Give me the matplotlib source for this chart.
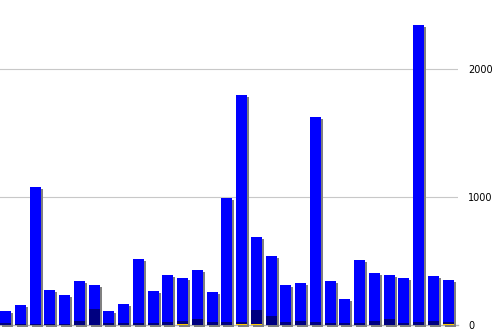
import numpy as np
from matplotlib import pyplot as plt
from matplotlib import transforms

# bar totals (31 bars)
totals = [109, 156, 1078, 273, 234, 344, 312, 109, 164, 515, 265, 390, 367, 430, 258,
          992, 1797, 687, 539, 312, 328, 1625, 344, 203, 508, 406, 390, 367, 2343, 383, 351]
# dark (navy) lower segment
dark = [13, 10, 8, 8, 8, 31, 125, 16, 16, 16, 16, 26, 21, 47, 26,
        26, 16, 109, 73, 26, 34, 26, 16, 16, 16, 34, 47, 16, 26, 34, 16]
# thin yellow segment at the very bottom
yellow = [0, 0, 0, 0, 0, 0, 0, 0, 0, 0, 0, 0, 8, 0, 0,
          0, 8, 8, 0, 0, 0, 0, 0, 0, 0, 0, 0, 0, 0, 0, 8]
yticks = [0, 1000, 2000]

totals = np.array(totals, dtype=float)
dark = np.array(dark, dtype=float)
yellow = np.array(yellow, dtype=float)
blue = totals - dark - yellow
x = np.arange(len(totals))
w = 0.746

fig = plt.figure(figsize=(4.98, 3.30), dpi=100)
ax = fig.add_axes([0, 5/330, 458/498, 325/330])

# drop shadow, 2px right / 2px down
shadow_tr = transforms.offset_copy(ax.transData, fig=fig, x=2, y=-2, units='dots')
ax.bar(x, totals, width=w, color='#808080', transform=shadow_tr, clip_on=False, zorder=1,
       linewidth=0, antialiased=False)

ax.bar(x, yellow, width=w, color='#ffcc00', zorder=2, linewidth=0, antialiased=False)
ax.bar(x, dark, width=w, bottom=yellow, color='#000080', zorder=2, linewidth=0, antialiased=False)
ax.bar(x, blue, width=w, bottom=yellow + dark, color='#0000ff', zorder=2, linewidth=0, antialiased=False)

ax.axhline(0, color='#b4b4b4', linewidth=1, zorder=0.5, clip_on=False)
for yv in yticks[1:]:
    ax.axhline(yv, color='#c8c8c8', linewidth=0.8, zorder=0)

ax.set_xlim(-w/2, -w/2 + 458/14.75)
ax.set_ylim(0, 2540)
ax.set_xticks([])
ax.yaxis.tick_right()
ax.set_yticks(yticks)
ax.set_yticklabels([str(v) for v in yticks])
ax.tick_params(axis='y', length=0, pad=7.5, labelsize=7, labelcolor='black')
for s in ax.spines.values():
    s.set_visible(False)

plt.savefig('out.png', dpi=100)
